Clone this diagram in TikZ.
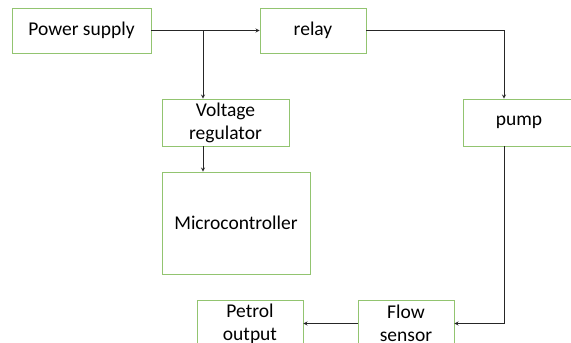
\documentclass[tikz,border=0pt]{standalone}
\usepackage{fontspec}
\setmainfont{Carlito}
\definecolor{boxgreen}{RGB}{146,196,112}
\begin{document}
\begin{tikzpicture}[x=1pt, y=-1pt, >=stealth,
    blk/.style={draw=boxgreen, line width=0.9pt, inner sep=0pt, align=center,
        font=\fontsize{19.5}{23}\selectfont},
    con/.style={->, line width=0.8pt, draw=black!85}]
    \useasboundingbox (0,0) rectangle (571,343);

    \node[blk, minimum width=139, minimum height=45] (ps) at (81.5,30.5) {Power supply};
    \node[blk, minimum width=106, minimum height=45] (rel) at (313,30.5) {relay};
    \node[blk, minimum width=127, minimum height=47] (vr) at (225.5,122.5) {Voltage\\regulator};
    \node[blk, minimum width=148, minimum height=102] (mc) at (236,223) {Microcontroller};
    \node[blk, minimum width=112, minimum height=47] (pmp) at (519,122.5) {pump};
    \node[blk, minimum width=96, minimum height=47] (fs) at (406,323.5) {Flow\\sensor};
    \node[blk, minimum width=106, minimum height=47] (po) at (250,323.5) {Petrol\\output};

    \coordinate (br) at (203,30.5);
    \coordinate (pt) at (504,0);

    \draw[con] (ps.east) -- (rel.west);
    \draw[con] (br) -- (br |- vr.north);
    \draw[con] (br |- vr.south) -- (br |- mc.north);
    \draw[con] (rel.east) -| (pt |- pmp.north);
    \draw[con] (pt |- pmp.south) |- (fs.east);
    \draw[con] (fs.west) -- (po.east);
\end{tikzpicture}
\end{document}
